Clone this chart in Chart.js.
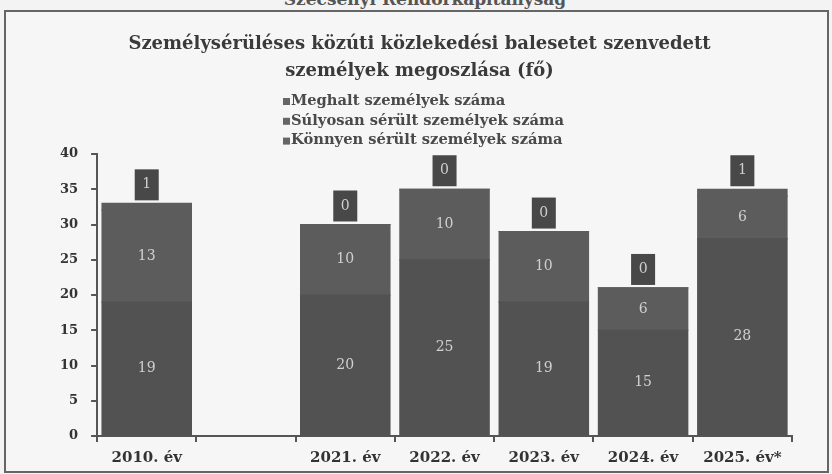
<!DOCTYPE html>
<html>
<head>
<meta charset="utf-8">
<script src="https://cdn.jsdelivr.net/npm/chart.js@4"></script>
<style>
  html, body { margin: 0; padding: 0; background: #f3f3f3; }
  #wrap { position: relative; width: 832px; height: 474px; overflow: hidden; }
  #header { position: absolute; top: -11px; left: 0; width: 850px; text-align: center;
    font: bold 17px "DejaVu Serif", serif; color: #555; }
  #frame { position: absolute; left: 4px; top: 10px; width: 821px; height: 459px;
    border: 2px solid #666; background: #f6f6f6; }
  canvas { position: absolute; left: 0; top: 0; }
</style>
</head>
<body>
<div id="wrap">
  <div id="header">Szécsényi Rendőrkapitányság</div>
  <div id="frame"></div>
  <canvas id="chart" width="832" height="474"></canvas>
</div>
<script>
// Categories and values
const categories = ['2010. év', '', '2021. év', '2022. év', '2023. év', '2024. év', '2025. év*'];
const konnyen = [19, null, 20, 25, 19, 15, 28];
const sulyosan = [13, null, 10, 10, 10, 6, 6];
const meghalt = [1, null, 0, 0, 0, 0, 1];
const seriesNames = ['Meghalt személyek száma', 'Súlyosan sérült személyek száma', 'Könnyen sérült személyek száma'];
const yTicks = [0, 5, 10, 15, 20, 25, 30, 35, 40];

const serif = '"DejaVu Serif", "Liberation Serif", serif';

// Labels inside bars, and dark boxes above bars for the top series
const labelPlugin = {
  id: 'barLabels',
  afterDatasetsDraw(chart) {
    const ctx = chart.ctx;
    ctx.save();
    ctx.font = '14px ' + serif;
    ctx.textAlign = 'center';
    ctx.textBaseline = 'middle';
    chart.data.datasets.forEach((ds, di) => {
      const meta = chart.getDatasetMeta(di);
      meta.data.forEach((bar, i) => {
        const v = ds.data[i];
        if (v === null) return;
        if (di < 2) {
          ctx.fillStyle = '#d0d0d0';
          ctx.fillText(String(v), bar.x, (bar.y + bar.base) / 2);
        } else {
          const top = Math.min(bar.y, bar.base);
          const w = 24, h = 31;
          ctx.fillStyle = '#484848';
          ctx.fillRect(bar.x - w / 2, top - 3 - h, w, h);
          ctx.fillStyle = '#cfcfcf';
          ctx.fillText(String(v), bar.x, top - 3 - h / 2);
        }
      });
    });
    ctx.restore();
  }
};

// Vertical legend under the title
const legendPlugin = {
  id: 'stackLegend',
  afterDraw(chart) {
    const ctx = chart.ctx;
    ctx.save();
    ctx.font = 'bold 14.7px ' + serif;
    ctx.textBaseline = 'middle';
    ctx.textAlign = 'left';
    seriesNames.forEach((name, i) => {
      const y = 101 + i * 19.8;
      ctx.fillStyle = '#666';
      ctx.fillRect(283, y - 3, 7, 7);
      ctx.fillStyle = '#4a4a4a';
      ctx.fillText(name, 291, y);
    });
    ctx.restore();
  }
};

new Chart(document.getElementById('chart'), {
  type: 'bar',
  data: {
    labels: categories,
    datasets: [{
      label: seriesNames[2],
      data: konnyen,
      backgroundColor: '#525252',
      inflateAmount: 0.6,
    }, {
      label: seriesNames[1],
      data: sulyosan,
      backgroundColor: '#5c5c5c',
      inflateAmount: 0.6,
    }, {
      label: seriesNames[0],
      data: meghalt,
      backgroundColor: '#5c5c5c',
      inflateAmount: 0.6,
    }],
  },
  options: {
    responsive: false,
    animation: false,
    layout: { padding: { left: 47, right: 40, top: 0, bottom: 0 } },
    datasets: { bar: { categoryPercentage: 1, barPercentage: 0.9 } },
    plugins: {
      legend: { display: false },
      tooltip: { enabled: false },
      title: {
        display: true,
        text: ['Személysérüléses közúti közlekedési balesetet szenvedett', 'személyek megoszlása (fő)'],
        color: '#3a3a3a',
        font: { family: serif, size: 18, weight: 'bold', lineHeight: 1.5 },
        padding: { top: 31, bottom: 69 },
      },
    },
    scales: {
      x: {
        stacked: true,
        grid: { drawOnChartArea: false, drawTicks: true, tickLength: 6, color: '#555', lineWidth: 2 },
        border: { display: true, color: '#555', width: 2 },
        ticks: { color: '#333', font: { family: serif, size: 15, weight: 'bold' }, padding: 7 },
      },
      y: {
        stacked: true,
        min: 0,
        max: 40,
        afterBuildTicks(axis) { axis.ticks = yTicks.map((v) => ({ value: v })); },
        grid: { drawOnChartArea: false, drawTicks: true, tickLength: 6, color: '#555', lineWidth: 2 },
        border: { display: true, color: '#555', width: 2 },
        ticks: { color: '#333', font: { family: serif, size: 13, weight: 'bold' }, padding: 13 },
      },
    },
  },
  plugins: [labelPlugin, legendPlugin],
});
</script>
</body>
</html>
